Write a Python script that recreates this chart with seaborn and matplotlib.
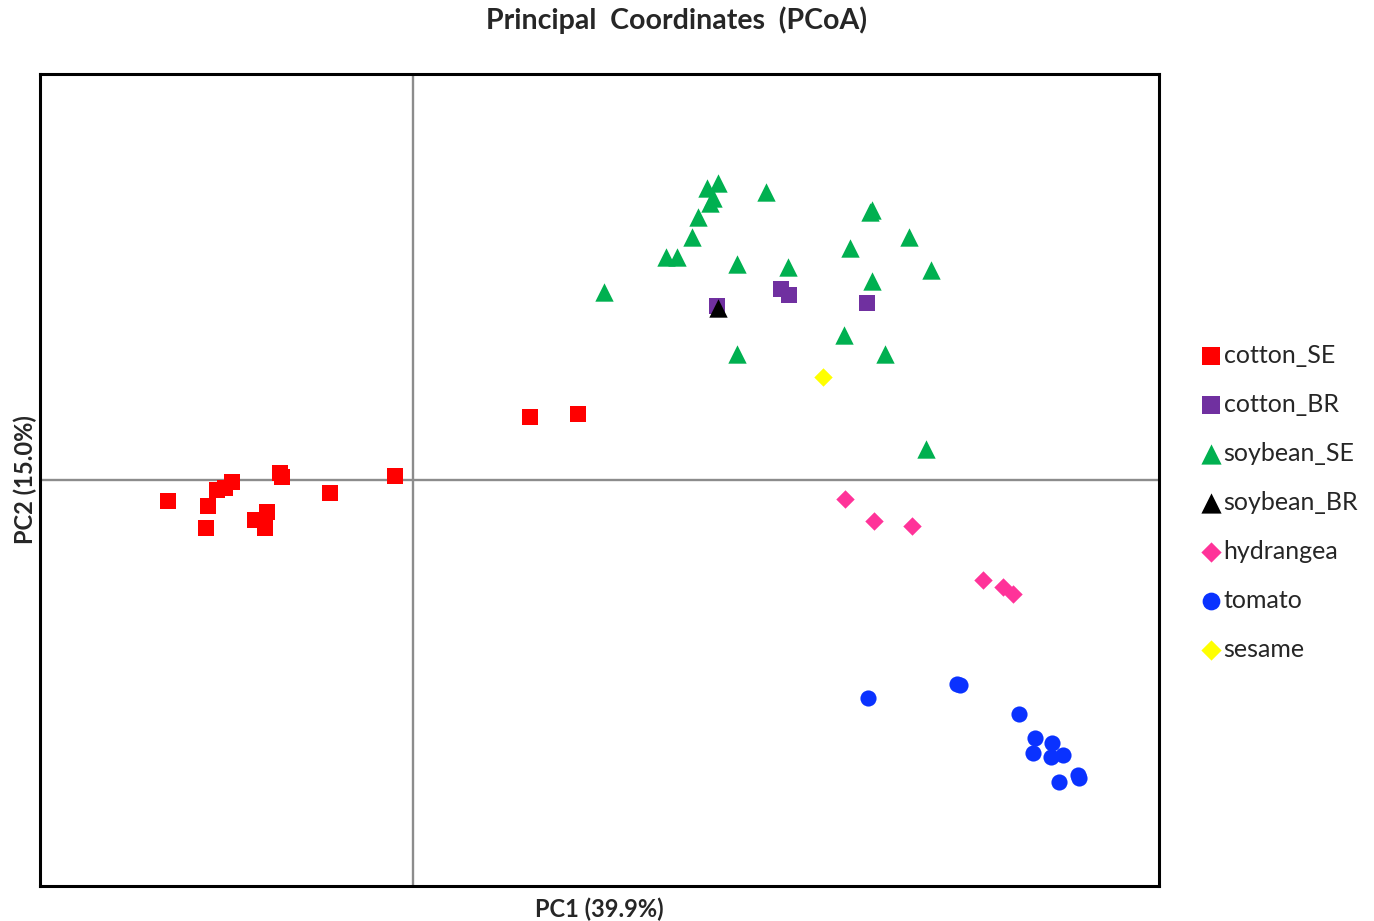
import pandas as pd
import matplotlib
matplotlib.use('Agg')
import matplotlib.pyplot as plt
import seaborn as sns

# PCoA scores (arbitrary units, origin at the grey cross)
cotton_se_x = [-0.245, -0.205, -0.207, -0.196, -0.188, -0.181, -0.133, -0.131, -0.158, -0.146, -0.148, -0.083, -0.018, 0.117, 0.165]
cotton_se_y = [-0.021, -0.026, -0.048, -0.010, -0.008, -0.002, 0.007, 0.003, -0.040, -0.032, -0.048, -0.013, 0.004, 0.063, 0.066]

cotton_br_x = [0.304, 0.368, 0.376, 0.454]
cotton_br_y = [0.174, 0.191, 0.185, 0.177]

soybean_se_x = [0.294, 0.305, 0.300, 0.297, 0.285, 0.279, 0.253, 0.264, 0.353, 0.457, 0.459,
                0.496, 0.437, 0.518, 0.459, 0.324, 0.375, 0.191, 0.431, 0.472, 0.324, 0.513]
soybean_se_y = [0.292, 0.297, 0.282, 0.277, 0.263, 0.243, 0.223, 0.223, 0.288, 0.268, 0.270,
                0.243, 0.232, 0.210, 0.199, 0.216, 0.213, 0.188, 0.145, 0.126, 0.126, 0.031]

soybean_br_x = [0.305]
soybean_br_y = [0.172]

hydrangea_x = [0.432, 0.461, 0.499, 0.570, 0.590, 0.600]
hydrangea_y = [-0.019, -0.041, -0.046, -0.100, -0.107, -0.114]

tomato_x = [0.455, 0.544, 0.547, 0.606, 0.622, 0.620, 0.639, 0.638, 0.650, 0.646, 0.665, 0.666]
tomato_y = [-0.218, -0.204, -0.205, -0.234, -0.258, -0.273, -0.263, -0.277, -0.275, -0.302, -0.295, -0.298]

sesame_x = [0.410]
sesame_y = [0.103]

groups = ['cotton_SE', 'cotton_BR', 'soybean_SE', 'soybean_BR', 'hydrangea', 'tomato', 'sesame']
xs = [cotton_se_x, cotton_br_x, soybean_se_x, soybean_br_x, hydrangea_x, tomato_x, sesame_x]
ys = [cotton_se_y, cotton_br_y, soybean_se_y, soybean_br_y, hydrangea_y, tomato_y, sesame_y]

colors = {'cotton_SE': '#ff0000', 'cotton_BR': '#7030a0', 'soybean_SE': '#00b050',
          'soybean_BR': '#000000', 'hydrangea': '#ff3399', 'tomato': '#0a32ff', 'sesame': '#ffff00'}
markers = {'cotton_SE': 's', 'cotton_BR': 's', 'soybean_SE': '^', 'soybean_BR': '^',
           'hydrangea': 'D', 'tomato': 'o', 'sesame': 'D'}
sizes = {'s': 135, '^': 175, 'D': 88, 'o': 135}

df = pd.concat([pd.DataFrame({'PC1': x, 'PC2': y, 'group': g}) for g, x, y in zip(groups, xs, ys)],
               ignore_index=True)

sns.set_style('white')
plt.rcParams['font.family'] = ['Lato', 'DejaVu Sans']

fig = plt.figure(figsize=(13.74, 9.21), dpi=100)
ax = fig.add_axes([0.0291, 0.038, 0.8144, 0.8817])

ax.axvline(0, color='#8c8c8c', lw=1.7, zorder=1)
ax.axhline(0, color='#8c8c8c', lw=1.7, zorder=1)

for g in groups:
    sub = df[df['group'] == g]
    m = markers[g]
    sns.scatterplot(data=sub, x='PC1', y='PC2', color=colors[g], marker=m, s=sizes[m],
                    linewidth=0, label=g, ax=ax, zorder=3)

ax.set_xlim(-0.373, 0.746)
ax.set_ylim(-0.406, 0.406)
ax.set_xticks([])
ax.set_yticks([])
for sp in ax.spines.values():
    sp.set_color('black')
    sp.set_linewidth(2.2)

ax.set_xlabel('PC1 (39.9%)', fontsize=17, fontweight='bold', labelpad=8)
ax.set_ylabel('PC2 (15.0%)', fontsize=17, fontweight='bold', labelpad=2)
fig.text(0.4925, 0.978, 'Principal  Coordinates  (PCoA)', ha='center', va='center',
         fontsize=20.5, fontweight='bold')

ax.legend(loc='upper left', bbox_to_anchor=(0.866, 0.64), bbox_transform=fig.transFigure,
          frameon=False, fontsize=18, labelspacing=1.04, handletextpad=0.15,
          handlelength=0.7, borderpad=0, markerscale=1.1)

fig.savefig('out.png', dpi=100)
